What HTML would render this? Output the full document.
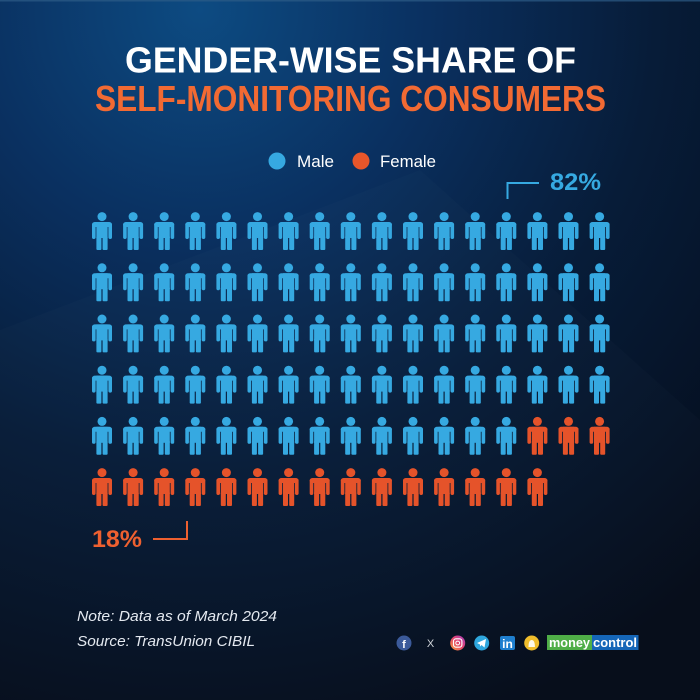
<!DOCTYPE html>
<html><head><meta charset="utf-8"><style>
html,body{margin:0;padding:0;background:#050f1f;}
svg{display:block;}
</style></head><body>
<svg width="700" height="700" viewBox="0 0 700 700" xmlns="http://www.w3.org/2000/svg">
<defs>
<radialGradient id="bg" cx="200" cy="10" r="760" gradientUnits="userSpaceOnUse">
<stop offset="0" stop-color="#0d4b82"/>
<stop offset="0.3" stop-color="#0a3060"/>
<stop offset="0.6" stop-color="#071c38"/>
<stop offset="1" stop-color="#040b18"/>
</radialGradient>
<linearGradient id="ig" x1="0" y1="1" x2="1" y2="0">
<stop offset="0" stop-color="#f9a13a"/><stop offset="0.5" stop-color="#e5466b"/><stop offset="1" stop-color="#a53cc4"/>
</linearGradient>
<g id="p">
<circle cx="0" cy="4.6" r="4.5"/>
<rect x="-10" y="10" width="20" height="5" rx="3"/>
<rect x="-10" y="11" width="3.6" height="16" rx="1.7"/>
<rect x="6.4" y="11" width="3.6" height="16" rx="1.7"/>
<rect x="-5.6" y="10" width="11.2" height="16"/>
<rect x="-5.6" y="24" width="5" height="14" rx="1"/>
<rect x="0.6" y="24" width="5" height="14" rx="1"/>
</g>
</defs>
<rect width="700" height="700" fill="url(#bg)"/>
<polygon points="0,330 420,170 700,420 700,700 0,700" fill="#ffffff" opacity="0.015"/>
<rect x="0" y="0" width="700" height="1.5" fill="#2d5c88" opacity="0.7"/>

<g font-family="Liberation Sans, sans-serif" font-weight="bold" font-size="36">
<text x="125" y="72.5" fill="#ffffff" textLength="451" lengthAdjust="spacingAndGlyphs">GENDER-WISE SHARE OF</text>
<text x="95" y="111" fill="#f26a33" textLength="511" lengthAdjust="spacingAndGlyphs">SELF-MONITORING CONSUMERS</text>
</g>

<circle cx="277" cy="161" r="8.5" fill="#36a9e1"/>
<text x="297" y="167" fill="#ffffff" font-family="Liberation Sans, sans-serif" font-size="17" textLength="37" lengthAdjust="spacingAndGlyphs">Male</text>
<circle cx="361" cy="161" r="8.5" fill="#e8562a"/>
<text x="380" y="167" fill="#ffffff" font-family="Liberation Sans, sans-serif" font-size="17" textLength="56" lengthAdjust="spacingAndGlyphs">Female</text>

<polyline points="507.5,199 507.5,183 539,183" fill="none" stroke="#36a9e1" stroke-width="2"/>
<text x="550" y="190" fill="#36a9e1" font-family="Liberation Sans, sans-serif" font-weight="bold" font-size="24" textLength="51" lengthAdjust="spacingAndGlyphs">82%</text>

<polyline points="153,539 187,539 187,521" fill="none" stroke="#ee6030" stroke-width="2"/>
<text x="92" y="547" fill="#ee6030" font-family="Liberation Sans, sans-serif" font-weight="bold" font-size="24" textLength="50" lengthAdjust="spacingAndGlyphs">18%</text>

<g id="grid"></g>
<g fill="#36a9e1">
<!-- rows 1-4 -->
<use href="#p" x="102" y="212"/><use href="#p" x="133.1" y="212"/><use href="#p" x="164.2" y="212"/><use href="#p" x="195.3" y="212"/><use href="#p" x="226.4" y="212"/><use href="#p" x="257.5" y="212"/><use href="#p" x="288.6" y="212"/><use href="#p" x="319.7" y="212"/><use href="#p" x="350.8" y="212"/><use href="#p" x="381.9" y="212"/><use href="#p" x="413" y="212"/><use href="#p" x="444.1" y="212"/><use href="#p" x="475.2" y="212"/><use href="#p" x="506.3" y="212"/><use href="#p" x="537.4" y="212"/><use href="#p" x="568.5" y="212"/><use href="#p" x="599.6" y="212"/>
<use href="#p" x="102" y="263.2"/><use href="#p" x="133.1" y="263.2"/><use href="#p" x="164.2" y="263.2"/><use href="#p" x="195.3" y="263.2"/><use href="#p" x="226.4" y="263.2"/><use href="#p" x="257.5" y="263.2"/><use href="#p" x="288.6" y="263.2"/><use href="#p" x="319.7" y="263.2"/><use href="#p" x="350.8" y="263.2"/><use href="#p" x="381.9" y="263.2"/><use href="#p" x="413" y="263.2"/><use href="#p" x="444.1" y="263.2"/><use href="#p" x="475.2" y="263.2"/><use href="#p" x="506.3" y="263.2"/><use href="#p" x="537.4" y="263.2"/><use href="#p" x="568.5" y="263.2"/><use href="#p" x="599.6" y="263.2"/>
<use href="#p" x="102" y="314.4"/><use href="#p" x="133.1" y="314.4"/><use href="#p" x="164.2" y="314.4"/><use href="#p" x="195.3" y="314.4"/><use href="#p" x="226.4" y="314.4"/><use href="#p" x="257.5" y="314.4"/><use href="#p" x="288.6" y="314.4"/><use href="#p" x="319.7" y="314.4"/><use href="#p" x="350.8" y="314.4"/><use href="#p" x="381.9" y="314.4"/><use href="#p" x="413" y="314.4"/><use href="#p" x="444.1" y="314.4"/><use href="#p" x="475.2" y="314.4"/><use href="#p" x="506.3" y="314.4"/><use href="#p" x="537.4" y="314.4"/><use href="#p" x="568.5" y="314.4"/><use href="#p" x="599.6" y="314.4"/>
<use href="#p" x="102" y="365.6"/><use href="#p" x="133.1" y="365.6"/><use href="#p" x="164.2" y="365.6"/><use href="#p" x="195.3" y="365.6"/><use href="#p" x="226.4" y="365.6"/><use href="#p" x="257.5" y="365.6"/><use href="#p" x="288.6" y="365.6"/><use href="#p" x="319.7" y="365.6"/><use href="#p" x="350.8" y="365.6"/><use href="#p" x="381.9" y="365.6"/><use href="#p" x="413" y="365.6"/><use href="#p" x="444.1" y="365.6"/><use href="#p" x="475.2" y="365.6"/><use href="#p" x="506.3" y="365.6"/><use href="#p" x="537.4" y="365.6"/><use href="#p" x="568.5" y="365.6"/><use href="#p" x="599.6" y="365.6"/>
<!-- row 5 blue -->
<use href="#p" x="102" y="416.8"/><use href="#p" x="133.1" y="416.8"/><use href="#p" x="164.2" y="416.8"/><use href="#p" x="195.3" y="416.8"/><use href="#p" x="226.4" y="416.8"/><use href="#p" x="257.5" y="416.8"/><use href="#p" x="288.6" y="416.8"/><use href="#p" x="319.7" y="416.8"/><use href="#p" x="350.8" y="416.8"/><use href="#p" x="381.9" y="416.8"/><use href="#p" x="413" y="416.8"/><use href="#p" x="444.1" y="416.8"/><use href="#p" x="475.2" y="416.8"/><use href="#p" x="506.3" y="416.8"/>
</g>
<g fill="#e5532a">
<use href="#p" x="537.4" y="416.8"/><use href="#p" x="568.5" y="416.8"/><use href="#p" x="599.6" y="416.8"/>
<use href="#p" x="102" y="468"/><use href="#p" x="133.1" y="468"/><use href="#p" x="164.2" y="468"/><use href="#p" x="195.3" y="468"/><use href="#p" x="226.4" y="468"/><use href="#p" x="257.5" y="468"/><use href="#p" x="288.6" y="468"/><use href="#p" x="319.7" y="468"/><use href="#p" x="350.8" y="468"/><use href="#p" x="381.9" y="468"/><use href="#p" x="413" y="468"/><use href="#p" x="444.1" y="468"/><use href="#p" x="475.2" y="468"/><use href="#p" x="506.3" y="468"/><use href="#p" x="537.4" y="468"/>
</g>

<g font-family="Liberation Sans, sans-serif" font-style="italic" font-size="15" fill="#e4e9f0">
<text x="77" y="621" textLength="200" lengthAdjust="spacingAndGlyphs">Note: Data as of March 2024</text>
<text x="77" y="646" textLength="178" lengthAdjust="spacingAndGlyphs">Source: TransUnion CIBIL</text>
</g>

<!-- social icons -->
<circle cx="404" cy="643" r="7.5" fill="#3b5a9a"/>
<text x="404" y="648" fill="#fff" font-family="Liberation Sans, sans-serif" font-weight="bold" font-size="11" text-anchor="middle">f</text>
<text x="430.5" y="647" fill="#d0d4da" font-family="Liberation Sans, sans-serif" font-size="11" text-anchor="middle">X</text>
<circle cx="457.7" cy="643" r="7.5" fill="url(#ig)"/>
<rect x="453.5" y="638.8" width="8.4" height="8.4" rx="2.4" fill="none" stroke="#fff" stroke-width="1.1"/>
<circle cx="457.7" cy="643" r="1.9" fill="none" stroke="#fff" stroke-width="1"/>
<circle cx="481.7" cy="643" r="7.5" fill="#2ea6dd"/>
<polygon points="477,643 486,639 484.5,647.5 481.5,645 480,646.5 480,644.5" fill="#fff"/>
<rect x="500" y="636" width="15" height="14" rx="2" fill="#1f7fcf"/>
<text x="507.5" y="648" fill="#fff" font-family="Liberation Sans, sans-serif" font-weight="bold" font-size="12" text-anchor="middle">in</text>
<circle cx="531.7" cy="643" r="7.5" fill="#f0bd2c"/>
<path d="M528.5,647 q0,-7 3.2,-7 q3.2,0 3.2,7 z" fill="#fff" opacity="0.9"/>
<rect x="547" y="635" width="45" height="15" fill="#4fae47"/>
<rect x="592" y="635" width="46.5" height="15" fill="#1566b8"/>
<text x="549" y="647" fill="#fff" font-family="Liberation Sans, sans-serif" font-weight="bold" font-size="12.5" textLength="41" lengthAdjust="spacingAndGlyphs">money</text>
<text x="593" y="647" fill="#fff" font-family="Liberation Sans, sans-serif" font-weight="bold" font-size="12.5" textLength="44" lengthAdjust="spacingAndGlyphs">control</text>
</svg>
</body></html>
